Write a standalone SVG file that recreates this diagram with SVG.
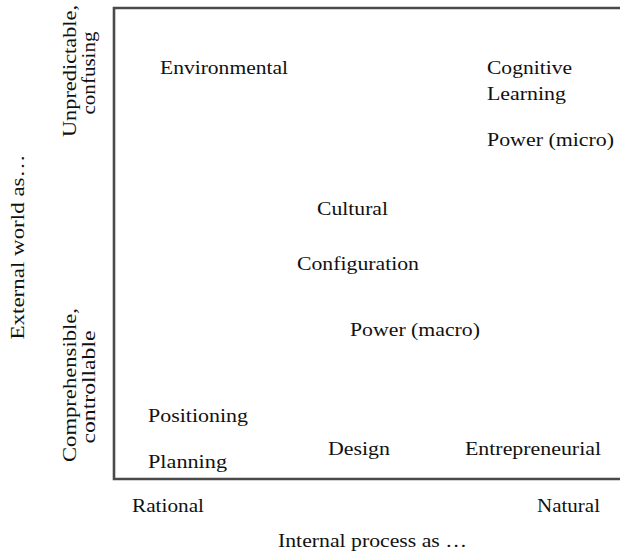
<svg xmlns="http://www.w3.org/2000/svg" width="620" height="555" viewBox="0 0 620 555">
<style>
text{font-family:"Liberation Serif","Times New Roman",serif;font-size:18px;fill:#111}
.ax{stroke:#4a4a4a;stroke-width:2.6;fill:none}
</style>
<rect width="620" height="555" fill="#fff"/>
<g id="connectors">
<path class="ax" d="M620 8 H114 V479 H620"/>
</g>
<g id="axis-y">
<text transform="translate(24 247) rotate(-90)" text-anchor="middle" textLength="185" lengthAdjust="spacingAndGlyphs">External world as…</text>
<text transform="translate(76 71) rotate(-90)" text-anchor="middle" textLength="132" lengthAdjust="spacingAndGlyphs">Unpredictable,</text>
<text transform="translate(95 73) rotate(-90)" text-anchor="middle" textLength="83" lengthAdjust="spacingAndGlyphs">confusing</text>
<text transform="translate(76 385) rotate(-90)" text-anchor="middle" textLength="154" lengthAdjust="spacingAndGlyphs">Comprehensible,</text>
<text transform="translate(95 387) rotate(-90)" text-anchor="middle" textLength="113" lengthAdjust="spacingAndGlyphs">controllable</text>
</g>
<g id="axis-x">
<text x="132" y="512" textLength="72" lengthAdjust="spacingAndGlyphs">Rational</text>
<text x="537" y="512" textLength="63" lengthAdjust="spacingAndGlyphs">Natural</text>
<text x="278" y="547" textLength="189" lengthAdjust="spacingAndGlyphs">Internal process as …</text>
</g>
<g id="environmental"><text x="160" y="74" textLength="128" lengthAdjust="spacingAndGlyphs">Environmental</text></g>
<g id="cognitive"><text x="487" y="74" textLength="85" lengthAdjust="spacingAndGlyphs">Cognitive</text></g>
<g id="learning"><text x="487" y="100" textLength="79" lengthAdjust="spacingAndGlyphs">Learning</text></g>
<g id="power-micro"><text x="487" y="146" textLength="127" lengthAdjust="spacingAndGlyphs">Power (micro)</text></g>
<g id="cultural"><text x="317" y="215" textLength="71" lengthAdjust="spacingAndGlyphs">Cultural</text></g>
<g id="configuration"><text x="297" y="270" textLength="122" lengthAdjust="spacingAndGlyphs">Configuration</text></g>
<g id="power-macro"><text x="350" y="336" textLength="130" lengthAdjust="spacingAndGlyphs">Power (macro)</text></g>
<g id="positioning"><text x="148" y="422" textLength="100" lengthAdjust="spacingAndGlyphs">Positioning</text></g>
<g id="planning"><text x="148" y="468" textLength="79" lengthAdjust="spacingAndGlyphs">Planning</text></g>
<g id="design"><text x="328" y="455" textLength="62" lengthAdjust="spacingAndGlyphs">Design</text></g>
<g id="entrepreneurial"><text x="465" y="455" textLength="136" lengthAdjust="spacingAndGlyphs">Entrepreneurial</text></g>
</svg>
